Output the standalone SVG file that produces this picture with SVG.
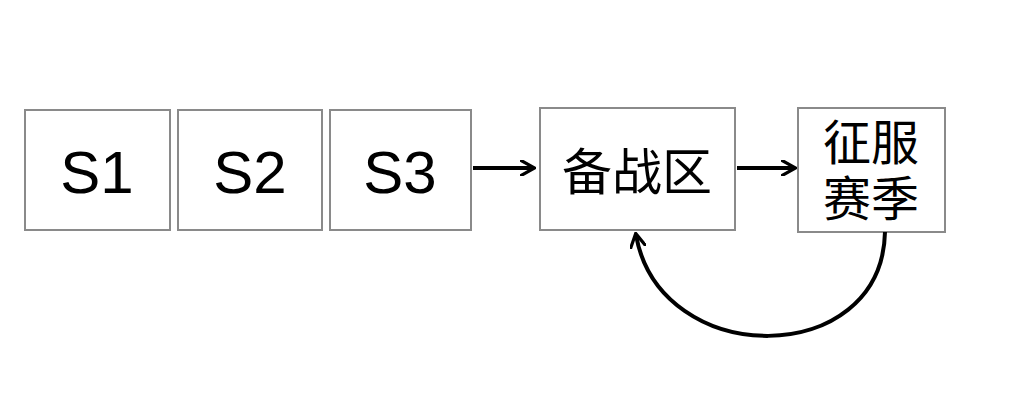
<svg xmlns="http://www.w3.org/2000/svg" width="1012" height="402" viewBox="0 0 1012 402">
<style>
.b{fill:#fff;stroke:#8a8a8a;stroke-width:2}
.t{font-family:"Liberation Sans","Noto Sans CJK SC",sans-serif;fill:#000;text-anchor:middle}
.c{fill:none;stroke:#000;stroke-width:4}
</style>
<defs><marker id="a" viewBox="0 0 10 10" refX="8" refY="5" markerWidth="4" markerHeight="4" orient="auto" markerUnits="strokeWidth"><path d="M0,0 L9,5 L0,10" fill="none" stroke="#000" stroke-width="2"/></marker></defs>
<rect width="1012" height="402" fill="#fff"/>
<g id="s1"><rect class="b" x="25" y="110" width="145" height="120"/><text class="t" x="97" y="193" font-size="60">S1</text></g>
<g id="s2"><rect class="b" x="178" y="110" width="144" height="120"/><text class="t" x="250" y="193" font-size="60">S2</text></g>
<g id="s3"><rect class="b" x="330" y="110" width="141" height="120"/><text class="t" x="400" y="193" font-size="60">S3</text></g>
<g id="bzq"><rect class="b" x="540" y="108" width="195" height="122"/><text class="t" x="637" y="190" font-size="50">备战区</text></g>
<g id="zfsj"><rect class="b" x="798" y="108" width="147" height="124"/><text class="t" x="871" y="160" font-size="48">征服</text><text class="t" x="871" y="216" font-size="48">赛季</text></g>
<g id="connectors">
<path class="c" d="M473,168 L533,168" marker-end="url(#a)"/>
<path class="c" d="M737,168 L794,168" marker-end="url(#a)"/>
<path class="c" d="M885,232 C882,370 660,370 636,235" marker-end="url(#a)"/>
</g>
</svg>
